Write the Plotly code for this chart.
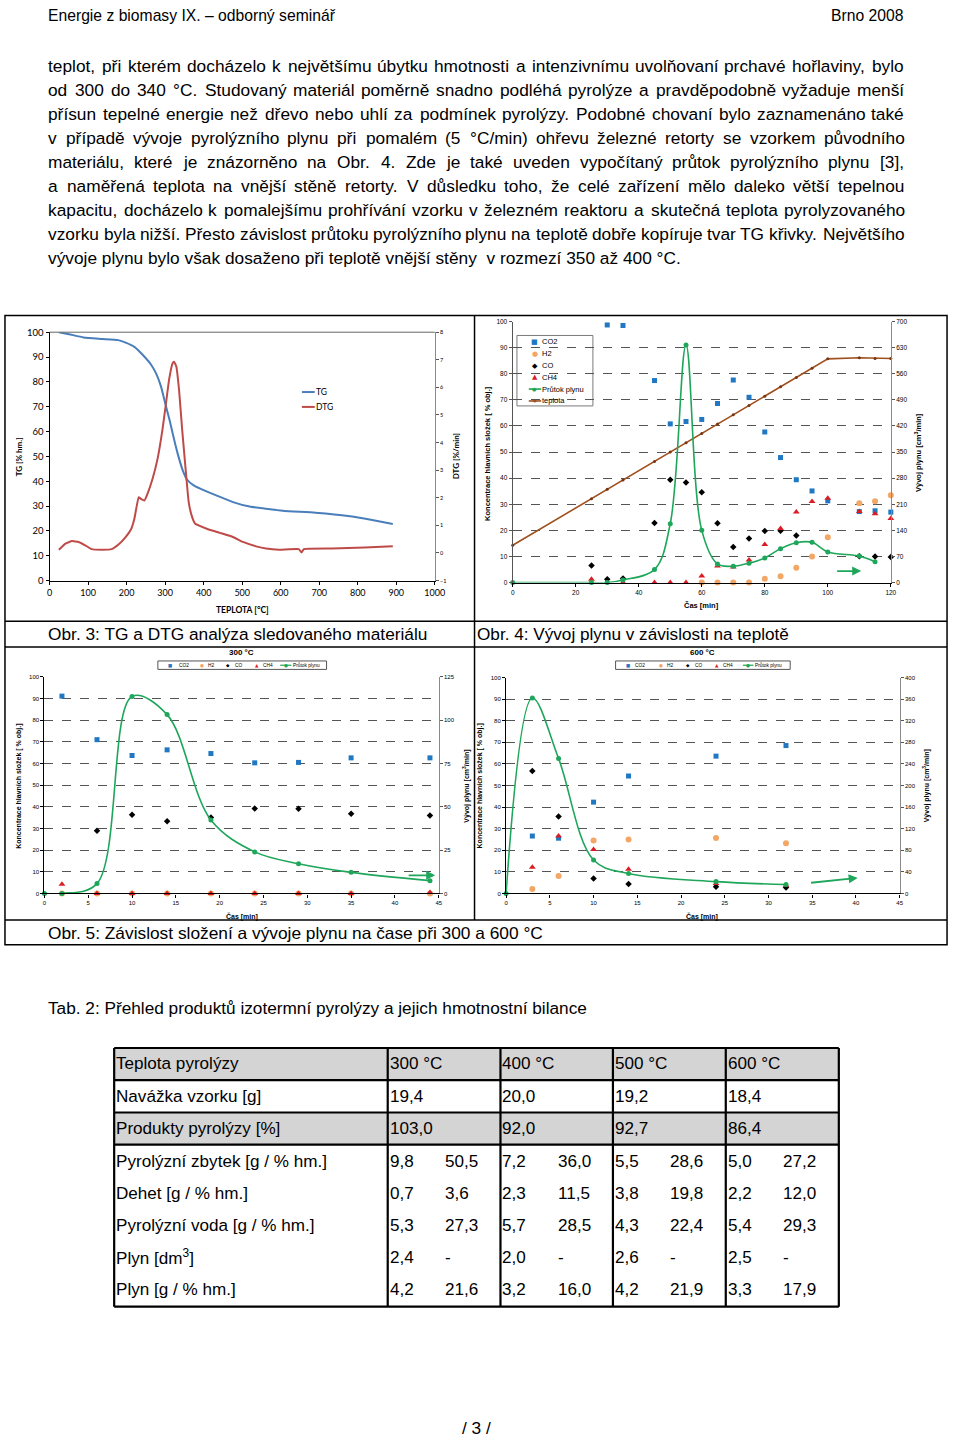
import unicodedata
import plotly.graph_objects as go

W, H = 960, 1442
def X(p): return p / W
def Y(p): return 1 - p / H

SANS = "Liberation Sans, Arial, sans-serif"
ARIAL = "Liberation Sans, Arial, sans-serif"
CAL = "Lato, Carlito, Calibri, sans-serif"

# ---------------- page text ----------------
header_left = "Energie z biomasy IX. – odborný seminář"
header_right = "Brno 2008"
body_lines = [
    "teplot, při kterém docházelo k největšímu úbytku hmotnosti a intenzivnímu uvolňovaní prchavé hořlaviny, bylo",
    "od 300 do 340 °C. Studovaný materiál poměrně snadno podléhá pyrolýze a pravděpodobně vyžaduje menší",
    "přísun tepelné energie než dřevo nebo uhlí za podmínek pyrolýzy. Podobné chovaní bylo zaznamenáno také",
    "v případě vývoje pyrolýzního plynu při pomalém (5 °C/min) ohřevu železné retorty se vzorkem původního",
    "materiálu, které je znázorněno na Obr. 4. Zde je také uveden vypočítaný průtok pyrolýzního plynu [3],",
    "a naměřená teplota na vnější stěně retorty. V důsledku toho, že celé zařízení mělo daleko větší tepelnou",
    "kapacitu, docházelo k pomalejšímu prohřívání vzorku v železném reaktoru a skutečná teplota pyrolyzovaného",
    "vzorku byla nižší. Přesto závislost průtoku pyrolýzního plynu na teplotě dobře kopíruje tvar TG křivky. Největšího",
    "vývoje plynu bylo však dosaženo při teplotě vnější stěny  v rozmezí 350 až 400 °C.",
]
caption3 = "Obr. 3: TG a DTG analýza sledovaného materiálu"
caption4 = "Obr. 4: Vývoj plynu v závislosti na teplotě"
caption5 = "Obr. 5: Závislost složení a vývoje plynu na čase při 300 a 600 °C"
tab_caption = "Tab. 2: Přehled produktů izotermní pyrolýzy a jejich hmotnostní bilance"
page_no = "/ 3 /"

# ---------------- chart 1 (TG / DTG) ----------------
tg_temp = [24, 50, 88, 135, 178, 199, 220, 242, 263, 276, 289, 301, 312, 323, 334, 346, 357, 374,
           391, 434, 476, 519, 562, 605, 690, 775, 844, 891]
tg_val = [100, 99.2, 97.9, 97.3, 96.8, 95.7, 94.1, 90.8, 87.0, 83.5, 78.2, 70.8, 64.2, 56.9, 50.2,
          44.2, 40.6, 38.3, 37.0, 34.2, 31.6, 29.8, 28.9, 28.1, 27.3, 26.0, 24.2, 22.8]
dtg_temp = [24, 41, 58, 75, 92, 109, 135, 161, 178, 195, 212, 220, 231, 237, 246, 254, 267, 280, 293,
            301, 310, 319, 323, 329, 336, 344, 353, 361, 370, 378, 408, 442, 476, 502, 536, 562, 596,
            647, 654, 660, 733, 818, 891]
dtg_val = [0.12, 0.34, 0.43, 0.40, 0.28, 0.14, 0.12, 0.14, 0.30, 0.54, 0.88, 1.24, 2.02, 1.96, 1.90,
           2.14, 2.68, 3.40, 4.48, 5.31, 6.27, 6.87, 6.93, 6.75, 5.91, 4.48, 3.04, 1.84, 1.30, 1.06,
           0.88, 0.73, 0.58, 0.40, 0.24, 0.16, 0.12, 0.14, 0.02, 0.14, 0.16, 0.20, 0.24]

# ---------------- chart 2 (gas vs time, heating) ----------------
c2_co2_t = [30, 35, 45, 50, 55, 60, 65, 70, 75, 80, 85, 90, 95, 100, 110, 115, 120]
c2_co2 = [98.7, 98.5, 77.4, 60.8, 61.7, 62.5, 68.6, 77.6, 71.0, 57.7, 47.9, 39.4, 35.1, 31.3, 27.2, 27.5, 27.0]
c2_h2_t = [60, 65, 70, 75, 80, 85, 90, 95, 100, 110, 115, 120]
c2_h2 = [0, 0, 0, 0, 1.5, 2.4, 5.7, 10.0, 17.4, 30.4, 31.2, 33.5]
c2_co_t = [25, 30, 35, 45, 50, 55, 60, 65, 70, 75, 80, 85, 90, 110, 115, 120]
c2_co = [6.5, 1.3, 1.6, 22.8, 39.4, 38.3, 34.6, 22.7, 13.6, 16.9, 19.8, 19.9, 18.0, 10.1, 10.0, 9.8]
c2_ch4_t = [25, 35, 45, 50, 55, 60, 65, 70, 75, 80, 85, 90, 95, 100, 110, 115, 120]
c2_ch4 = [1.3, 0, 0, 0, 0, 2.5, 6.3, 6.0, 8.6, 14.6, 20.7, 27.0, 31.1, 32.3, 27.2, 26.4, 24.5]
c2_flow_t = [0, 25, 30, 35, 45, 50, 55, 60, 65, 70, 75, 80, 85, 90, 95, 100, 110, 115]
c2_flow = [0, 0, 0, 7, 35, 158, 637, 140, 50, 44, 52, 66, 91, 107, 108, 82, 71, 56]
c2_temp_t = [0, 25, 30, 35, 45, 50, 55, 60, 65, 70, 75, 80, 85, 90, 95, 100, 110, 115, 120]
c2_temp = [100, 225, 250, 275, 325, 350, 375, 400, 425, 450, 475, 500, 525, 550, 575, 600, 603, 601, 601]

# ---------------- chart 3 (300 °C) ----------------
c3_t = [2, 6, 10, 14, 19, 24, 29, 35, 44]
c3_co2 = [91.1, 71.0, 63.7, 66.3, 64.6, 60.3, 60.5, 62.6, 62.6]
c3_h2 = [0, 0, 0, 0, 0, 0, 0, 0, 0]
c3_co_t = [6, 10, 14, 19, 24, 29, 35, 44]
c3_co = [29.0, 36.3, 33.3, 35.1, 39.2, 39.1, 36.8, 36.0]
c3_ch4 = [4.3, 0, 0, 0, 0, 0, 0, 0, 0.5]
c3_flow_t = [0, 2, 6, 10, 14, 19, 24, 29, 35, 44]
c3_flow = [0, 0, 5.7, 113.7, 103.2, 42.4, 24.0, 17.2, 12.2, 7.4]

# ---------------- chart 4 (600 °C) ----------------
c4_t = [3, 6, 10, 14, 24, 32]
c4_co2 = [26.6, 25.6, 42.3, 54.4, 63.6, 68.5]
c4_h2 = [2.1, 8.1, 24.5, 25.0, 25.7, 23.3]
c4_co = [56.7, 35.7, 6.9, 4.4, 3.1, 2.8]
c4_ch4 = [12.1, 26.6, 20.4, 11.2, 4.6, 3.8]
c4_flow_t = [0, 3, 6, 10, 14, 24, 32]
c4_flow = [0, 362, 250, 62, 37, 22, 16.5]

# ---------------- table ----------------
tab_labels = ["Teplota pyrolýzy", "Navážka vzorku [g]", "Produkty pyrolýzy [%]",
              "Pyrolýzní zbytek [g / % hm.]", "Dehet [g / % hm.]", "Pyrolýzní voda [g / % hm.]",
              "Plyn [dm<sup>3</sup>]", "Plyn [g / % hm.]"]
tab_temps = ["300 °C", "400 °C", "500 °C", "600 °C"]
tab_navazka = ["19,4", "20,0", "19,2", "18,4"]
tab_produkty = ["103,0", "92,0", "92,7", "86,4"]
tab_zbytek = [("9,8", "50,5"), ("7,2", "36,0"), ("5,5", "28,6"), ("5,0", "27,2")]
tab_dehet = [("0,7", "3,6"), ("2,3", "11,5"), ("3,8", "19,8"), ("2,2", "12,0")]
tab_voda = [("5,3", "27,3"), ("5,7", "28,5"), ("4,3", "22,4"), ("5,4", "29,3")]
tab_plyn_dm3 = [("2,4", "-"), ("2,0", "-"), ("2,6", "-"), ("2,5", "-")]
tab_plyn_g = [("4,2", "21,6"), ("3,2", "16,0"), ("4,2", "21,9"), ("3,3", "17,9")]

# colours
C_TG, C_DTG = "#4A7EBB", "#BE4B48"
C_CO2, C_H2, C_CO, C_CH4 = "#1F78C1", "#F2A766", "#000000", "#DC1C24"
C_FLOW, C_TEMP = "#1EA65A", "#A0501E"

# Arial / Liberation Sans advance widths (1/1000 em) for measuring page text
_AW = {" ": 278, ".": 278, ",": 278, ":": 278, ";": 278, "(": 333, ")": 333, "[": 278, "]": 278,
       "/": 278, "-": 333, "–": 556, "°": 400, "%": 889,
       "a": 556, "b": 556, "c": 500, "d": 556, "e": 556, "f": 278, "g": 556, "h": 556, "i": 222,
       "j": 222, "k": 500, "l": 222, "m": 833, "n": 556, "o": 556, "p": 556, "q": 556, "r": 333,
       "s": 500, "t": 278, "u": 556, "v": 500, "w": 722, "x": 500, "y": 500, "z": 500,
       "A": 667, "B": 667, "C": 722, "D": 722, "E": 667, "F": 611, "G": 778, "H": 722, "I": 278,
       "J": 500, "K": 667, "L": 556, "M": 833, "N": 722, "O": 778, "P": 667, "Q": 778, "R": 722,
       "S": 667, "T": 611, "U": 722, "V": 667, "W": 944, "X": 667, "Y": 667, "Z": 611,
       "í": 278, "ď": 615}

def text_w(s, size):
    tot = 0
    for ch in s:
        if ch in _AW:
            tot += _AW[ch]
        elif ch.isdigit():
            tot += 556
        else:
            base = unicodedata.normalize("NFD", ch)[0]
            tot += _AW.get(base, 556)
    return tot * size / 1000.0

def fit(s, width):
    return width / text_w(s, 1)

fig = go.Figure()

# chart 1
fig.add_trace(go.Scatter(x=tg_temp, y=tg_val, mode="lines", xaxis="x", yaxis="y",
                         line=dict(color=C_TG, width=2, shape="spline", smoothing=0.5)))
fig.add_trace(go.Scatter(x=dtg_temp, y=dtg_val, mode="lines", xaxis="x", yaxis="y2",
                         line=dict(color=C_DTG, width=2, shape="spline", smoothing=0.3)))

def gas_traces(xa, ya, ya2, co2, h2, co, ch4, flow, temp=None, ms=5):
    if temp is not None:
        fig.add_trace(go.Scatter(x=temp[0], y=temp[1], mode="lines+markers", xaxis=xa, yaxis=ya2,
                                 line=dict(color=C_TEMP, width=1.6), cliponaxis=False,
                                 marker=dict(color="#7A3510", size=3)))
    fig.add_trace(go.Scatter(x=flow[0], y=flow[1], mode="lines+markers", xaxis=xa, yaxis=ya2,
                             line=dict(color=C_FLOW, width=1.6, shape="spline", smoothing=1.0),
                             marker=dict(color=C_FLOW, size=5), cliponaxis=False))
    fig.add_trace(go.Scatter(x=co2[0], y=co2[1], mode="markers", xaxis=xa, yaxis=ya, cliponaxis=False,
                             marker=dict(symbol="square", color=C_CO2, size=ms)))
    fig.add_trace(go.Scatter(x=h2[0], y=h2[1], mode="markers", xaxis=xa, yaxis=ya, cliponaxis=False,
                             marker=dict(symbol="circle", color=C_H2, size=ms + 1)))
    fig.add_trace(go.Scatter(x=co[0], y=co[1], mode="markers", xaxis=xa, yaxis=ya, cliponaxis=False,
                             marker=dict(symbol="diamond", color=C_CO, size=ms)))
    fig.add_trace(go.Scatter(x=ch4[0], y=ch4[1], mode="markers", xaxis=xa, yaxis=ya, cliponaxis=False,
                             marker=dict(symbol="triangle-up", color=C_CH4, size=ms + 1)))

gas_traces("x2", "y3", "y4", (c2_co2_t, c2_co2), (c2_h2_t, c2_h2), (c2_co_t, c2_co),
           (c2_ch4_t, c2_ch4), (c2_flow_t, c2_flow), temp=(c2_temp_t, c2_temp))
gas_traces("x3", "y5", "y6", (c3_t, c3_co2), (c3_t, c3_h2), (c3_co_t, c3_co),
           (c3_t, c3_ch4), (c3_flow_t, c3_flow))
gas_traces("x4", "y7", "y8", (c4_t, c4_co2), (c4_t, c4_h2), (c4_t, c4_co),
           (c4_t, c4_ch4), (c4_flow_t, c4_flow))

def xax(dom, rng, dtick, anchor, fsize, family):
    return dict(domain=dom, range=rng, dtick=dtick, tick0=0, anchor=anchor, showline=True,
                linecolor="black", linewidth=1.3, ticks="outside", ticklen=3, tickcolor="black",
                tickfont=dict(size=fsize, family=family, color="black"), showgrid=False,
                zeroline=False, fixedrange=True)

GRID_VALS = [10, 20, 30, 40, 50, 60, 70, 80, 90]

def yax(dom, rng, dtick, anchor, fsize, family, grid=False, linecolor="black"):
    d = dict(domain=dom, range=rng, dtick=dtick, tick0=rng[0], anchor=anchor, showline=True,
             linecolor=linecolor, linewidth=1.3, ticks="outside", ticklen=3, tickcolor=linecolor,
             tickfont=dict(size=fsize, family=family, color="black"), zeroline=False,
             fixedrange=True, showgrid=False)
    if grid:
        d["minor"] = dict(tickvals=GRID_VALS, showgrid=True, griddash="dash", gridcolor="#555555",
                          gridwidth=1, ticks="")
    return d

def y2ax(over, rng, dtick, anchor, fsize, family):
    return dict(overlaying=over, side="right", range=rng, dtick=dtick, tick0=rng[0], anchor=anchor,
                showline=True, linecolor="#8a8a8a", linewidth=1.2, ticks="outside", ticklen=3,
                tickcolor="#555", tickfont=dict(size=fsize, family=family, color="black"),
                showgrid=False, zeroline=False, fixedrange=True)

layout = dict(
    width=W, height=H, margin=dict(l=0, r=0, t=0, b=0), showlegend=False,
    paper_bgcolor="white", plot_bgcolor="rgba(0,0,0,0)",
    xaxis=xax([X(47.3), X(437.7)], [0, 1000], 100, "y", 9, CAL),
    yaxis=yax([Y(579), Y(328.7)], [0, 100], 10, "x", 9.5, CAL),
    yaxis2=y2ax("y", [-1, 8], 1, "x", 5.5, CAL),
    xaxis2=xax([X(516.7), X(900)], [0, 120], 20, "y3", 6.5, ARIAL),
    yaxis3=yax([Y(581), Y(318)], [0, 100], 10, "x2", 6.5, ARIAL, grid=True, linecolor="#555"),
    yaxis4=y2ax("y3", [0, 700], 70, "x2", 6.5, ARIAL),
    xaxis3=xax([X(42), X(441.7)], [0, 45], 5, "y5", 6, ARIAL),
    yaxis5=yax([Y(894.3), Y(676)], [0, 100], 10, "x3", 6, ARIAL, grid=True),
    yaxis6=y2ax("y5", [0, 125], 25, "x3", 6, ARIAL),
    xaxis4=xax([X(510), X(909)], [0, 45], 5, "y7", 6, ARIAL),
    yaxis7=yax([Y(894.3), Y(676.7)], [0, 100], 10, "x4", 6, ARIAL, grid=True),
    yaxis8=y2ax("y7", [0, 400], 40, "x4", 6, ARIAL),
)
fig.update_layout(**layout)

shapes = []
ann = []

def pline(x0, y0, x1, y1, color="black", width=1.5):
    shapes.append(dict(type="line", xref="paper", yref="paper", x0=X(x0), y0=Y(y0), x1=X(x1), y1=Y(y1),
                       line=dict(color=color, width=width)))

def prect(x0, y0, x1, y1, fill=None, color="black", width=1.5):
    shapes.append(dict(type="rect", xref="paper", yref="paper", x0=X(x0), y0=Y(y1), x1=X(x1), y1=Y(y0),
                       line=dict(color=color, width=width), fillcolor=fill if fill else "rgba(0,0,0,0)",
                       layer="below" if fill else "above"))

def text(x, y, s, size, family=SANS, anchor="left", color="black", bold=False, angle=0):
    ann.append(dict(xref="paper", yref="paper", x=X(x), y=Y(y), text=f"<b>{s}</b>" if bold else s,
                    showarrow=False, xanchor=anchor, yanchor="middle", textangle=angle,
                    borderpad=0, borderwidth=0,
                    font=dict(size=size, family=family, color=color)))

# header
hs = fit(header_left, 287)
text(46, 10, header_left, hs)
text(913, 10, header_right, hs, anchor="right")

# body text, justified between 46 and 913 (last line left aligned)
LEFT, RIGHT = 46, 913
bs = fit(body_lines[-1], 633)
for i, line in enumerate(body_lines):
    yy = 60 + i * 24.3
    if i == len(body_lines) - 1:
        text(LEFT, yy, line, bs)
        continue
    words = line.split(" ")
    widths = [text_w(w, bs) for w in words]
    gap = (RIGHT - LEFT - sum(widths)) / (len(words) - 1)
    xx = LEFT
    for w, ww in zip(words, widths):
        text(xx, yy, w, bs)
        xx += ww + gap

# figure frames
prect(2, 312, 957, 946, width=1.5)
pline(2, 620, 957, 620)
pline(2, 646, 957, 646)
pline(2, 921, 957, 921)
pline(478, 312, 478, 921)

# chart 1 top border
shapes.append(dict(type="line", xref="x domain", yref="y domain", x0=0, x1=1, y0=1, y1=1,
                   line=dict(color="#666", width=1)))

# captions
text(46, 633, caption3, fit(caption3, 381))
text(480, 633, caption4, fit(caption4, 313))
text(46, 934, caption5, fit(caption5, 496))
text(46, 1010, tab_caption, fit(tab_caption, 541))
text(480, 1433, page_no, bs, anchor="center")

# chart 1 titles / legend
text(16, 454, "TG [% hm.]", 8, family=CAL, anchor="center", bold=True, angle=-90)
text(459, 454, "DTG [%/min]", 8, family=CAL, anchor="center", bold=True, angle=-90)
text(243, 609, "TEPLOTA [°C]", 8.5, family=CAL, anchor="center", bold=True)
pline(303, 389, 316, 389, color=C_TG, width=2)
pline(303, 404, 316, 404, color=C_DTG, width=2)
text(317, 389, "TG", 8.5, family=CAL)
text(317, 404, "DTG", 8.5, family=CAL)

# chart 2 titles / legend
text(491, 451, "Koncentrace hlavních složek [ % obj.]", 7.5, family=ARIAL, anchor="center", bold=True, angle=-90)
text(927, 450, "Vývoj plynu [cm<sup>3</sup>/min]", 7.5, family=ARIAL, anchor="center", bold=True, angle=-90)
text(708, 604, "Čas [min]", 7.5, family=ARIAL, anchor="center", bold=True)
prect(521, 332, 598, 403, fill="white", color="#7a7a7a", width=1)
leg_names = ["CO2", "H2", "CO", "CH4", "Průtok plynu", "teplota"]
leg_glyph = [("■", C_CO2), ("●", C_H2), ("◆", C_CO), ("▲", C_CH4)]
leg_y = [338.3, 350.3, 362.3, 374.3, 386, 398]
for i, nm in enumerate(leg_names):
    if i < 4:
        text(539.3, leg_y[i], leg_glyph[i][0], 7, family="DejaVu Sans", anchor="center", color=leg_glyph[i][1])
    else:
        col = C_FLOW if i == 4 else C_TEMP
        pline(533, leg_y[i], 545.5, leg_y[i], color=col, width=1.6)
        text(539.3, leg_y[i], "●", 5 if i == 4 else 4, family="DejaVu Sans", anchor="center", color=col)
    text(546, leg_y[i], nm, 7.5, family=ARIAL)

# chart 3 / 4 titles and legends
def small_chart_labels(cx, lx, rx, title):
    text(cx, 651, title, 8, family=ARIAL, anchor="center", bold=True)
    text(lx, 786, "Koncentrace hlavních složek [ % obj.]", 7, family=ARIAL, anchor="center", bold=True, angle=-90)
    text(rx, 786, "Vývoj plynu [cm<sup>3</sup>/min]", 7, family=ARIAL, anchor="center", bold=True, angle=-90)
    text(cx, 917, "Čas [min]", 7, family=ARIAL, anchor="center", bold=True)

small_chart_labels(242, 16, 469, "300 °C")
small_chart_labels(709, 484, 936, "600 °C")

def small_legend(x0, x1, sym_x, txt_x, line_x):
    prect(x0, 660, x1, 668.5, fill="white", color="#555", width=1)
    yc = 664.3
    for i in range(4):
        text(sym_x[i], yc, leg_glyph[i][0], 4.5, family="DejaVu Sans", anchor="center", color=leg_glyph[i][1])
        text(txt_x[i], yc, leg_names[i], 4.8, family=ARIAL)
    pline(line_x[0], yc, line_x[1], yc, color=C_FLOW, width=1.2)
    text((line_x[0] + line_x[1]) / 2, yc, "●", 4.5, family="DejaVu Sans", anchor="center", color=C_FLOW)
    text(txt_x[4], yc, leg_names[4], 4.8, family=ARIAL)

small_legend(157, 328, [169.3, 201.7, 228.3, 257], [178, 208, 235, 263.5, 294], (281, 292.3))
small_legend(621, 798, [634, 666.7, 694.3, 723.3], [641, 673, 701, 730, 762.5], (750, 760.7))

# arrows indicating right axis (start x, start y, end x, end y, xref, yref)
arrows = [(102.5, 4.4, 110.6, 4.4, "x2", "y3"),
          (41.4, 8.4, 44.6, 8.4, "x3", "y5"),
          (34.7, 4.9, 40.2, 7.2, "x4", "y7")]
for ax0, ay0, ax1, ay1, xr, yr in arrows:
    ann.append(dict(x=ax1, y=ay1, ax=ax0, ay=ay0, xref=xr, yref=yr, axref=xr, ayref=yr, text="",
                    showarrow=True, arrowhead=2, arrowsize=1, arrowwidth=1.8, arrowcolor=C_FLOW))

# table
cx = [112.7, 390, 504.3, 618.3, 732.7, 847.3]
ry = [1050, 1082.3, 1115, 1147.3, 1310.7]
row_c = [1066, 1099, 1131, 1164, 1196.5, 1229, 1261, 1293.5]
prect(cx[0], ry[0], cx[-1], ry[1], fill="#D4D4D4", width=0)
prect(cx[0], ry[2], cx[-1], ry[3], fill="#D4D4D4", width=0)
for yv in ry:
    pline(cx[0], yv, cx[-1], yv, width=2.2)
for xv in cx:
    pline(xv, ry[0], xv, ry[-1], width=2.2)
TF = fit(tab_labels[3], 211)
for i, lab in enumerate(tab_labels):
    text(cx[0] + 2, row_c[i], lab, TF)
single_rows = [tab_temps, tab_navazka, tab_produkty]
for r, vals in enumerate(single_rows):
    for j, v in enumerate(vals):
        text(cx[j + 1] + 2, row_c[r], v, TF)
pair_rows = [tab_zbytek, tab_dehet, tab_voda, tab_plyn_dm3, tab_plyn_g]
for r, vals in enumerate(pair_rows):
    for j, (a, b) in enumerate(vals):
        text(cx[j + 1] + 2, row_c[r + 3], a, TF)
        text(cx[j + 1] + 58, row_c[r + 3], b, TF)

fig.update_layout(shapes=shapes, annotations=ann)

POST = ("var s=document.documentElement.style;s.margin='0';s.padding='0';s.overflow='hidden';"
        "var b=document.body.style;b.margin='0';b.padding='0';b.overflow='hidden';"
        "var d=document.getElementById('{plot_id}');d.style.position='absolute';"
        "d.style.left='0px';d.style.top='0px';")
fig.write_html("out.html", config={"displayModeBar": False, "staticPlot": False},
               post_script=POST)
